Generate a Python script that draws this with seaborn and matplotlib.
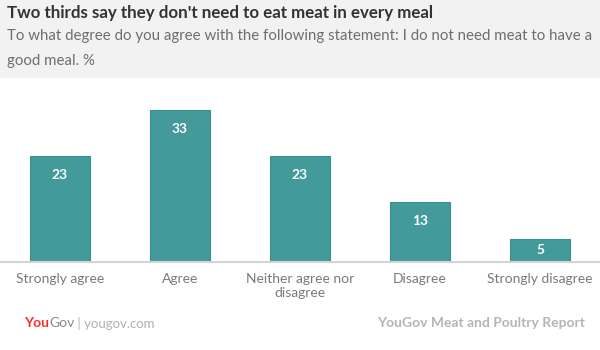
import numpy as np
import pandas as pd
import seaborn as sns
import matplotlib.pyplot as plt
from matplotlib.patches import Rectangle

# Chart data
categories = ['Strongly agree', 'Agree', 'Neither agree nor\ndisagree', 'Disagree', 'Strongly disagree']
values = [23, 33, 23, 13, 5]

title = "Two thirds say they don't need to eat meat in every meal"
subtitle_lines = ["To what degree do you agree with the following statement: I do not need meat to have a",
                  "good meal. %"]
source = "YouGov Meat and Poultry Report"

df = pd.DataFrame({'answer': categories, 'pct': values})

sns.set_style('white')
plt.rcParams['font.family'] = ['Lato', 'DejaVu Sans']

fig = plt.figure(figsize=(6, 3.5), dpi=100)

# Grey header band
fig.patches.append(Rectangle((0, 1 - 78 / 350), 1, 78 / 350, transform=fig.transFigure,
                             facecolor='#f2f2f2', edgecolor='none', zorder=0))

ax = fig.add_axes([0.0, 88 / 350, 1.0, 166 / 350])
sns.barplot(data=df, x='answer', y='pct', color='#439a9a', width=0.5,
            saturation=1, ax=ax, edgecolor='#3b9090', linewidth=0.8)
ax.set_xlim(-0.5, 4.5)
ax.set_ylim(0, 36)
ax.set_xlabel('')
ax.set_ylabel('')
ax.set_yticks([])
for s in ['top', 'left', 'right']:
    ax.spines[s].set_visible(False)
ax.spines['bottom'].set_color('#d4d4d4')
ax.spines['bottom'].set_linewidth(1.5)
ax.tick_params(axis='x', length=0, pad=8, labelsize=10, labelcolor='#7a7a7a')

# Value labels inside the bars
for i, v in enumerate(values):
    y = max(v - 4.1, v / 2)
    ax.text(i, y, str(v), ha='center', va='center', color='white',
            fontsize=10, fontweight='bold')

# Header texts
fig.text(0.012, 1 - 13 / 350, title, ha='left', va='center', fontsize=12.2,
         fontweight='bold', color='#333333')
for k, line in enumerate(subtitle_lines):
    fig.text(0.012, 1 - (36 + 25 * k) / 350, line, ha='left', va='center',
             fontsize=10.8, color='#6e6e6e')

# Footer logo, pieces placed one after another
renderer = fig.canvas.get_renderer()
x = 0.04
for txt, kw in [('You', dict(fontsize=10, fontweight='bold', color='#ff2b2b')),
                ('Gov', dict(fontsize=10, color='#8a8a8a')),
                (' | yougov.com', dict(fontsize=9.5, color='#b0b0b0'))]:
    t = fig.text(x, 0.076, txt, ha='left', va='center', **kw)
    bb = t.get_window_extent(renderer=renderer)
    x += bb.width / fig.bbox.width

fig.text(0.975, 0.076, source, ha='right', va='center', fontsize=10,
         fontweight='bold', color='#b5b5b5')

fig.savefig('out.png', dpi=100)
